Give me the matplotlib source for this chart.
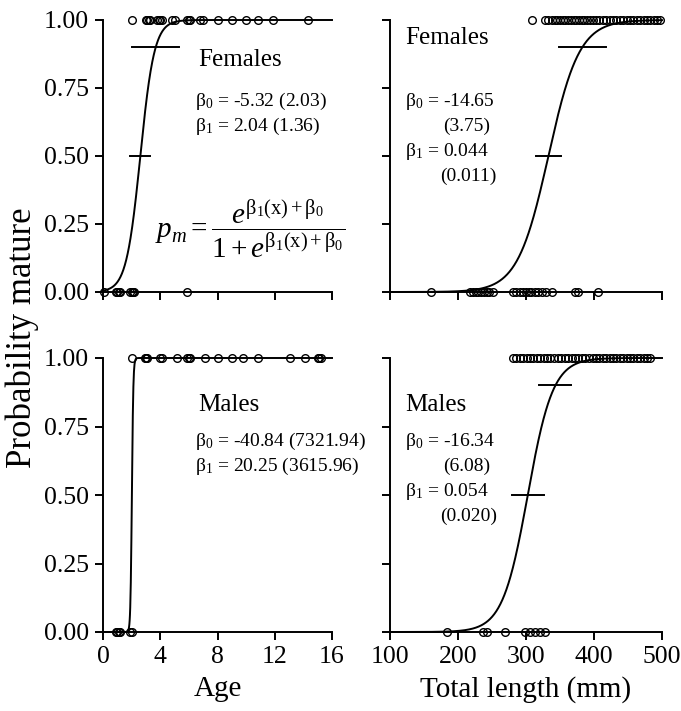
import numpy as np
import matplotlib
matplotlib.use('Agg')
import matplotlib.pyplot as plt

plt.rcParams['font.family'] = ['Liberation Serif', 'DejaVu Serif']
plt.rcParams['mathtext.fontset'] = 'custom'
plt.rcParams['mathtext.rm'] = 'Liberation Serif'
plt.rcParams['mathtext.it'] = 'Liberation Serif:italic'
plt.rcParams['mathtext.default'] = 'regular'

# logistic parameters (b0, b1)
fem_age_b = (-5.32, 2.04)
mal_age_b = (-40.84, 20.25)
fem_len_b = (-14.65, 0.044)
mal_len_b = (-16.34, 0.054)

# observations: mature (1) and immature (0)
fem_age_1 = [2.0, 3.0, 3.1, 3.2, 3.3, 3.8, 3.9, 4.0, 4.1, 4.8, 5.0, 5.9, 6.0, 6.1, 6.8, 7.0,
             8.0, 9.0, 10.0, 10.8, 11.9, 14.3]
fem_age_0 = [0.1, 0.9, 1.0, 1.1, 1.2, 1.9, 2.0, 2.1, 2.2, 5.9]
mal_age_1 = [2.0, 2.9, 3.0, 3.1, 4.0, 4.1, 5.2, 5.9, 6.0, 6.1, 7.1, 8.0, 9.0, 9.8, 10.8,
             13.1, 14.1, 15.0, 15.1, 15.2]
mal_age_0 = [0.9, 1.0, 1.1, 1.2, 1.9, 2.0]
fem_len_1 = [309, 328, 333, 338, 342, 346, 350, 354, 358, 362, 366, 370, 374, 378, 382, 386,
             390, 394, 398, 403, 408, 413, 418, 423, 428, 433, 438, 443, 448, 453, 458, 463,
             468, 473, 478, 483, 488, 493, 497]
fem_len_0 = [161, 218, 222, 226, 230, 234, 238, 242, 246, 251, 281, 286, 291, 296, 300, 304,
             308, 313, 318, 324, 330, 338, 372, 376, 406]
mal_len_1 = [281, 286, 291, 296, 301, 306, 311, 316, 321, 326, 331, 336, 341, 347, 352, 357,
             362, 367, 372, 377, 382, 387, 392, 398, 403, 408, 413, 418, 423, 428, 433, 438,
             443, 448, 453, 458, 463, 468, 473, 478, 482]
mal_len_0 = [184, 237, 243, 269, 299, 306, 313, 320, 328]

# horizontal bars at p = 0.9 and p = 0.5: (probability, bar length in x units)
fem_age_bars = [(0.9, 3.3), (0.5, 1.4)]
fem_len_bars = [(0.9, 70), (0.5, 37)]
mal_len_bars = [(0.9, 47), (0.5, 47)]


def logistic(x, b):
    z = b[1] * x + b[0]
    return 1.0 / (1.0 + np.exp(-z))


def inv_logistic(p, b):
    return (np.log(p / (1 - p)) - b[0]) / b[1]


fig = plt.figure(figsize=(6.81, 7.11), dpi=100)
W, H = 681, 711


def make_ax(x0, x1, ytop, ybot):
    return fig.add_axes([x0 / W, 1 - ybot / H, (x1 - x0) / W, (ybot - ytop) / H])


ax_tl = make_ax(103, 332, 20, 292)
ax_bl = make_ax(103, 332, 358, 632)
ax_tr = make_ax(390, 662, 20, 292)
ax_br = make_ax(390, 662, 358, 632)

panels = [
    (ax_tl, fem_age_b, fem_age_1, fem_age_0, fem_age_bars, (0, 16)),
    (ax_bl, mal_age_b, mal_age_1, mal_age_0, [], (0, 16)),
    (ax_tr, fem_len_b, fem_len_1, fem_len_0, fem_len_bars, (100, 500)),
    (ax_br, mal_len_b, mal_len_1, mal_len_0, mal_len_bars, (100, 500)),
]

for ax, b, ones, zeros, bars, xl in panels:
    xs = np.linspace(xl[0], xl[1], 800)
    ax.plot(xs, logistic(xs, b), color='black', lw=1.4, clip_on=False)
    ax.plot(ones, np.ones(len(ones)), 'o', mfc='none', mec='black', ms=5.5, mew=1.0, clip_on=False)
    ax.plot(zeros, np.zeros(len(zeros)), 'o', mfc='none', mec='black', ms=5.5, mew=1.0, clip_on=False)
    for p, w in bars:
        c = inv_logistic(p, b)
        ax.plot([c - w / 2, c + w / 2], [p, p], color='black', lw=1.4)
    ax.set_xlim(*xl)
    ax.set_ylim(0, 1)
    ax.set_yticks([0, 0.25, 0.5, 0.75, 1.0])
    for s in ['top', 'right']:
        ax.spines[s].set_visible(False)
    for s in ['left', 'bottom']:
        ax.spines[s].set_linewidth(1.4)
    ax.tick_params(direction='out', length=6, width=1.4, labelsize=18.5, pad=4)

for ax in [ax_tl, ax_bl]:
    ax.set_xticks([0, 4, 8, 12, 16])
    ax.set_yticklabels(['0.00', '0.25', '0.50', '0.75', '1.00'])
for ax in [ax_tr, ax_br]:
    ax.set_xticks([100, 200, 300, 400, 500])
    ax.set_yticklabels([])
for ax in [ax_tl, ax_tr]:
    ax.set_xticklabels([])

ax_bl.set_xlabel('Age', fontsize=21, labelpad=6)
ax_br.set_xlabel('Total length (mm)', fontsize=21, labelpad=6)
fig.text(22 / W, 1 - 338 / H, 'Probability mature', rotation=90, fontsize=25,
         ha='center', va='center')


def txt(x, y, s, size=14):
    fig.text(x / W, 1 - y / H, s, fontsize=size, ha='left', va='center')


txt(198, 60, 'Females', 18)
txt(195, 101, r'β$_0$ = -5.32 (2.03)')
txt(195, 126, r'β$_1$ = 2.04 (1.36)')
fig.text(155 / W, 1 - 229 / H,
         r'$\mathit{p_m} = \dfrac{\mathit{e}^{β_1(x)+β_0}}{1+\mathit{e}^{β_1(x)+β_0}}$',
         fontsize=21, ha='left', va='center')

txt(405, 38, 'Females', 18)
txt(405, 101, r'β$_0$ = -14.65')
txt(443, 126, '(3.75)')
txt(405, 151, r'β$_1$ = 0.044')
txt(440, 176, '(0.011)')

txt(198, 405, 'Males', 18)
txt(195, 441, r'β$_0$ = -40.84 (7321.94)')
txt(195, 466, r'β$_1$ = 20.25 (3615.96)')

txt(405, 405, 'Males', 18)
txt(405, 441, r'β$_0$ = -16.34')
txt(443, 466, '(6.08)')
txt(405, 491, r'β$_1$ = 0.054')
txt(440, 516, '(0.020)')

fig.savefig('out.png', dpi=100)
